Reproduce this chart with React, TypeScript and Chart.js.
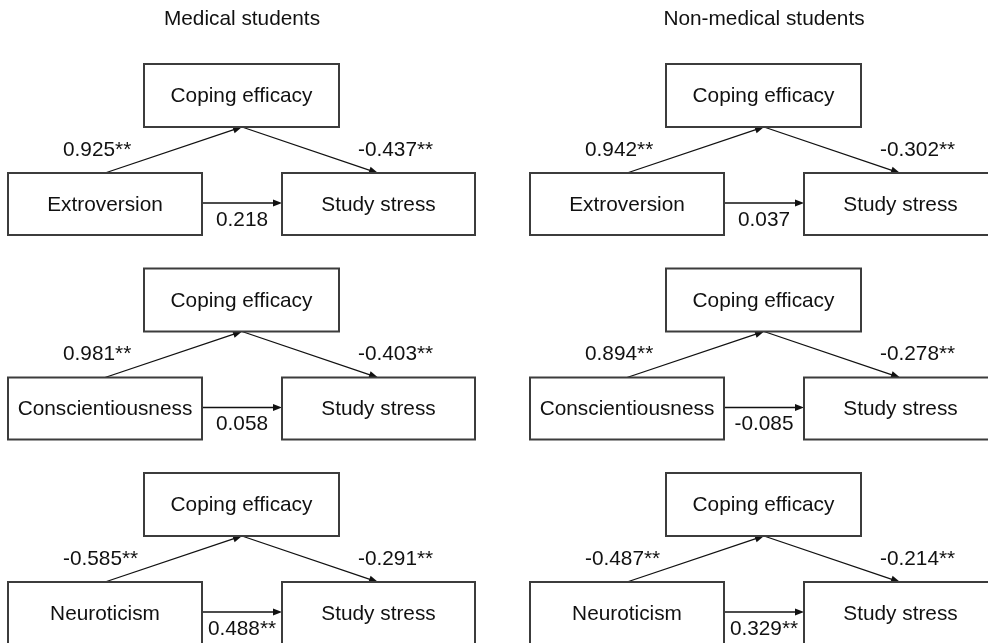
import React, { useEffect, useRef } from "react";
import { Chart, registerables } from "chart.js";

Chart.register(...registerables);

// ---- Data ----
const groups = ["Medical students", "Non-medical students"];
const predictors = ["Extroversion", "Conscientiousness", "Neuroticism"];
const mediatorName = "Coping efficacy";
const outcomeName = "Study stress";

// path a: predictor -> coping efficacy
const medicalA = [0.925, 0.981, -0.585];
const nonMedicalA = [0.942, 0.894, -0.487];
// path b: coping efficacy -> study stress
const medicalB = [-0.437, -0.403, -0.291];
const nonMedicalB = [-0.302, -0.278, -0.214];
// path c': predictor -> study stress
const medicalC = [0.218, 0.058, 0.488];
const nonMedicalC = [0.037, -0.085, 0.329];
// significance (** p < 0.01)
const medicalASig = [true, true, true];
const nonMedicalASig = [true, true, true];
const medicalBSig = [true, true, true];
const nonMedicalBSig = [true, true, true];
const medicalCSig = [false, false, true];
const nonMedicalCSig = [false, false, true];

const pathA = [medicalA, nonMedicalA];
const pathB = [medicalB, nonMedicalB];
const pathC = [medicalC, nonMedicalC];
const sigA = [medicalASig, nonMedicalASig];
const sigB = [medicalBSig, nonMedicalBSig];
const sigC = [medicalCSig, nonMedicalCSig];

const fmt = (v: number, s: boolean) => v.toFixed(3) + (s ? "**" : "");

// ---- Layout (in scale units) ----
const W = 988;
const H = 643;
const PANEL_OFFSET = 522;
const ROW_TOP0 = 64;
const ROW_STEP = 204.5;
const FONT = "20.8px 'Liberation Sans', Arial, sans-serif";

const diagramPlugin = {
  id: "pathDiagram",
  afterDraw(chart: any) {
    const ctx: CanvasRenderingContext2D = chart.ctx;
    const xs = chart.scales.x;
    const ys = chart.scales.y;
    const px = (v: number) => xs.getPixelForValue(v);
    const py = (v: number) => ys.getPixelForValue(v);

    ctx.save();
    ctx.fillStyle = "#ffffff";
    ctx.fillRect(0, 0, chart.width, chart.height);

    const box = (x0: number, y0: number, x1: number, y1: number, label: string) => {
      ctx.lineWidth = 2;
      ctx.strokeStyle = "#3c3c3c";
      ctx.strokeRect(px(x0), py(y0), px(x1) - px(x0), py(y1) - py(y0));
      ctx.fillStyle = "#111111";
      ctx.font = FONT;
      ctx.textAlign = "center";
      ctx.textBaseline = "middle";
      ctx.fillText(label, px((x0 + x1) / 2), py((y0 + y1) / 2) + 1);
    };

    const arrow = (x0: number, y0: number, x1: number, y1: number) => {
      const ax = px(x0), ay = py(y0), bx = px(x1), by = py(y1);
      const ang = Math.atan2(by - ay, bx - ax);
      const len = 9, hw = 3.5;
      ctx.strokeStyle = "#111111";
      ctx.lineWidth = 1.3;
      ctx.beginPath();
      ctx.moveTo(ax, ay);
      ctx.lineTo(bx - Math.cos(ang) * len * 0.6, by - Math.sin(ang) * len * 0.6);
      ctx.stroke();
      ctx.fillStyle = "#111111";
      ctx.beginPath();
      ctx.moveTo(bx, by);
      ctx.lineTo(bx - Math.cos(ang) * len - Math.sin(ang) * hw, by - Math.sin(ang) * len + Math.cos(ang) * hw);
      ctx.lineTo(bx - Math.cos(ang) * len + Math.sin(ang) * hw, by - Math.sin(ang) * len - Math.cos(ang) * hw);
      ctx.closePath();
      ctx.fill();
    };

    const text = (s: string, x: number, y: number, align: CanvasTextAlign) => {
      ctx.fillStyle = "#111111";
      ctx.font = FONT;
      ctx.textAlign = align;
      ctx.textBaseline = "middle";
      ctx.fillText(s, px(x), py(y));
    };

    groups.forEach((g, gi) => {
      const o = gi * PANEL_OFFSET;
      text(g, 242 + o, 19, "center");
      predictors.forEach((p, ri) => {
        const t = ROW_TOP0 + ri * ROW_STEP;
        arrow(105 + o, t + 109, 242 + o, t + 63);
        arrow(242 + o, t + 63, 378 + o, t + 109);
        arrow(202 + o, t + 139, 282 + o, t + 139);
        box(144 + o, t, 339 + o, t + 63, mediatorName);
        box(8 + o, t + 109, 202 + o, t + 171, p);
        box(282 + o, t + 109, 475 + o, t + 171, outcomeName);
        text(fmt(pathA[gi][ri], sigA[gi][ri]), 63 + o, t + 86, "left");
        text(fmt(pathB[gi][ri], sigB[gi][ri]), 358 + o, t + 86, "left");
        text(fmt(pathC[gi][ri], sigC[gi][ri]), 242 + o, t + 156, "center");
      });
    });
    ctx.restore();
  },
};

export default function App() {
  const ref = useRef<HTMLCanvasElement | null>(null);
  useEffect(() => {
    document.body.style.margin = "0";
    if (!ref.current) return;
    const chart = new Chart(ref.current, {
      type: "scatter",
      data: { datasets: [{ data: [], pointRadius: 0 }] },
      options: {
        animation: false,
        responsive: false,
        layout: { padding: 0 },
        plugins: { legend: { display: false }, tooltip: { enabled: false } },
        scales: {
          x: { type: "linear", min: 0, max: W, display: false },
          y: { type: "linear", min: 0, max: H, reverse: true, display: false },
        },
      },
      plugins: [diagramPlugin],
    });
    return () => chart.destroy();
  }, []);
  return (
    <div style={{ position: "fixed", left: 0, top: 0, width: W, height: H, background: "#fff", overflow: "hidden" }}>
      <canvas ref={ref} width={W} height={H} style={{ width: W, height: H, display: "block" }} />
    </div>
  );
}
